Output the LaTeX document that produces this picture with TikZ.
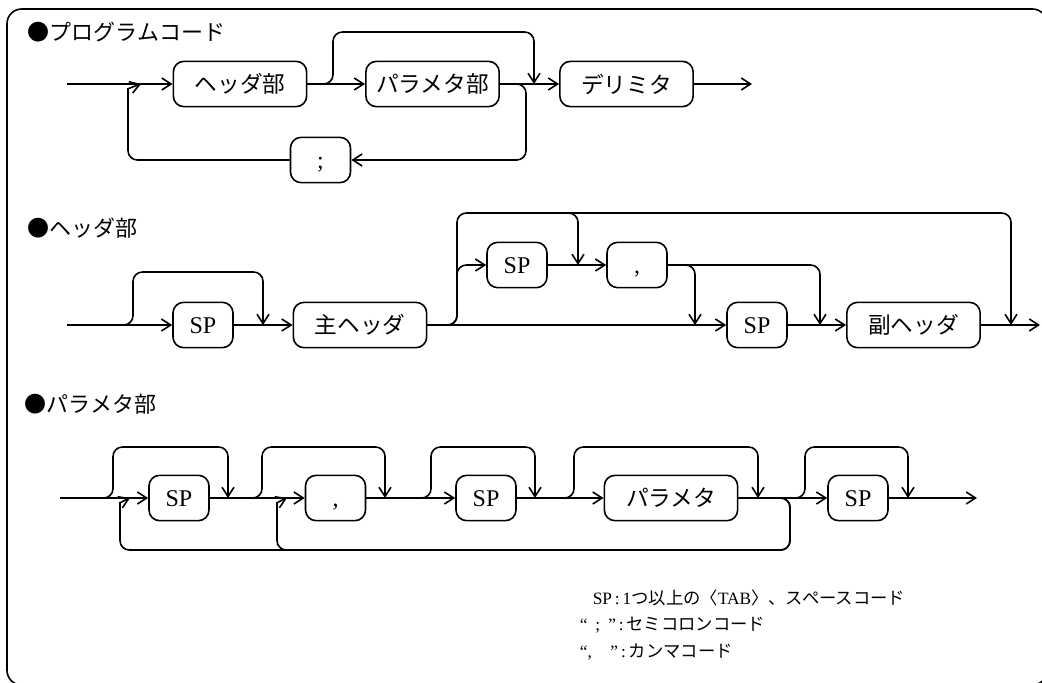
\documentclass[tikz,border=0pt]{standalone}
\usepackage{fontspec}
\setmainfont{Liberation Serif}
\newfontfamily\jp{Noto Sans CJK JP}
\usetikzlibrary{positioning, arrows.meta, calc}
\tikzset{
  wbox/.style={draw, rounded corners=8pt, minimum width=100pt, minimum height=34pt,
    inner sep=0pt, font=\jp\fontsize{17}{17}\selectfont},
  tbox/.style={draw, rounded corners=8pt, minimum width=45pt, minimum height=34pt,
    inner sep=0pt, text height=12pt, text depth=0pt, font=\fontsize{18}{18}\selectfont},
  sect/.style={anchor=west, inner sep=0pt, font=\jp\fontsize{16.5}{16.5}\selectfont},
  note/.style={anchor=west, inner sep=0pt, font=\fontsize{13}{13}\selectfont},
  arr/.style={-{Straight Barb[length=7pt,width=9pt]}},
  rail/.style={rounded corners=7pt, arr},
  every edge/.append style={arr}
}

\begin{document}
\begin{tikzpicture}[x=0.75pt, y=-0.75pt, line width=1.2pt]
  \useasboundingbox (0,0) rectangle (1042,682);
  \draw[rounded corners=11pt] (7,9) rectangle (1047,685);

  % program code
  \node[sect] (t1) at (27,32) {●プログラムコード};
  \node[wbox] (hdr) at (240,84) {ヘッダ部};
  \node[wbox] (prm) at (432.5,84) {パラメタ部};
  \node[wbox] (dlm) at (626.5,84) {デリミタ};
  \node[tbox] (semi) at (320.5,160) {;};
  \coordinate (pin) at (67,84);
  \coordinate (pret) at (141,84);
  \coordinate (pskip) at (318,84);
  \coordinate (pback) at (512,84);
  \coordinate (pjoin) at (534,84);
  \coordinate (pout) at (752,84);

  \path (pin) edge (hdr) (hdr) edge (prm) (prm) edge (dlm) (dlm) edge (pout);
  \draw[rail] (pskip) -| ++(15,-52) -| (pjoin);
  \draw[rail] (pback) -| ++(14,76) -- (semi);
  \draw[rail] (semi) -| ($(pret)+(-13,14)$)
    .. controls ($(pret)+(-13,5)$) and ($(pret)+(-9,3)$) .. (pret);

  % header
  \node[sect] (t2) at (27,228) {●ヘッダ部};
  \node[tbox] (sp1) at (203,325) {SP};
  \node[wbox] (mhd) at (360,325) {主ヘッダ};
  \node[tbox] (spu) at (517,265) {SP};
  \node[tbox] (cma) at (637,265) {,};
  \node[tbox] (spl) at (757,325) {SP};
  \node[wbox] (shd) at (913.5,325) {副ヘッダ};
  \coordinate (hin) at (67,325);
  \coordinate (hsk) at (124,325);
  \coordinate (hj1) at (263,325);
  \coordinate (hbr) at (442,325);
  \coordinate (hup) at (563,213);
  \coordinate (hj2) at (578,265);
  \coordinate (hcm) at (681,265);
  \coordinate (hj3) at (695,325);
  \coordinate (hj5) at (820,325);
  \coordinate (hj4) at (1011,325);
  \coordinate (hout) at (1040,325);

  \path (hin) edge (sp1) (sp1) edge (mhd) (mhd) edge (spl)
    (spl) edge (shd) (shd) edge (hout) (spu) edge (cma);
  \draw[rail] (hsk) -| ++(9,-53) -| (hj1);
  \draw[rail] (hbr) -| ++(15,-60) -- (spu);
  \draw[rail] (hbr) -| ++(15,-112) -| (hj4);
  \draw[rail] (hup) -| (hj2);
  \draw[rail] (cma) -| (hj5);
  \draw[rail] (hcm) -| (hj3);

  % parameter
  \node[sect] (t3) at (24,404) {●パラメタ部};
  \node[tbox] (q1) at (179,498) {SP};
  \node[tbox] (qc) at (335.5,498) {,};
  \node[tbox] (q2) at (486,498) {SP};
  \node[wbox] (qp) at (671,498) {パラメタ};
  \node[tbox] (q3) at (858,498) {SP};
  \coordinate (qin) at (60,498);
  \coordinate (qret1) at (130,498);
  \coordinate (qret2) at (287,498);
  \coordinate (qlb) at (772,498);
  \coordinate (qout) at (977,498);

  \path (qin) edge (q1) (q1) edge (qc) (qc) edge (q2)
    (q2) edge (qp) (qp) edge (q3) (q3) edge (qout);
  \foreach \n/\a/\b in {1/103/228, 2/252/385, 3/421/535, 4/564/758, 5/795/908}{
    \coordinate (qs\n) at (\a,498);
    \coordinate (qe\n) at (\b,498);
    \draw[rail] (qs\n) -| ++(10,-51) -| (qe\n);
  }
  \draw[rail] (qlb) -| ++(18,52) -| ($(qret1)+(-10,14)$)
    .. controls ($(qret1)+(-10,5)$) and ($(qret1)+(-7,3)$) .. (qret1);
  \draw[rail] (qlb) -| ++(18,52) -| ($(qret2)+(-10,14)$)
    .. controls ($(qret2)+(-10,5)$) and ($(qret2)+(-7,3)$) .. (qret2);

  \node[note] (leg1) at (592,598) {SP\,:\,1{\jp つ以上の〈}TAB{\jp 〉、スペースコード}};
  \node[note] (leg2) at (579,625) {“\hspace{6pt};\hspace{6pt}”\,:\,{\jp セミコロンコード}};
  \node[note] (leg3) at (579,652) {“,\hspace{14pt}”\,:\,{\jp カンマコード}};
\end{tikzpicture}
\end{document}
